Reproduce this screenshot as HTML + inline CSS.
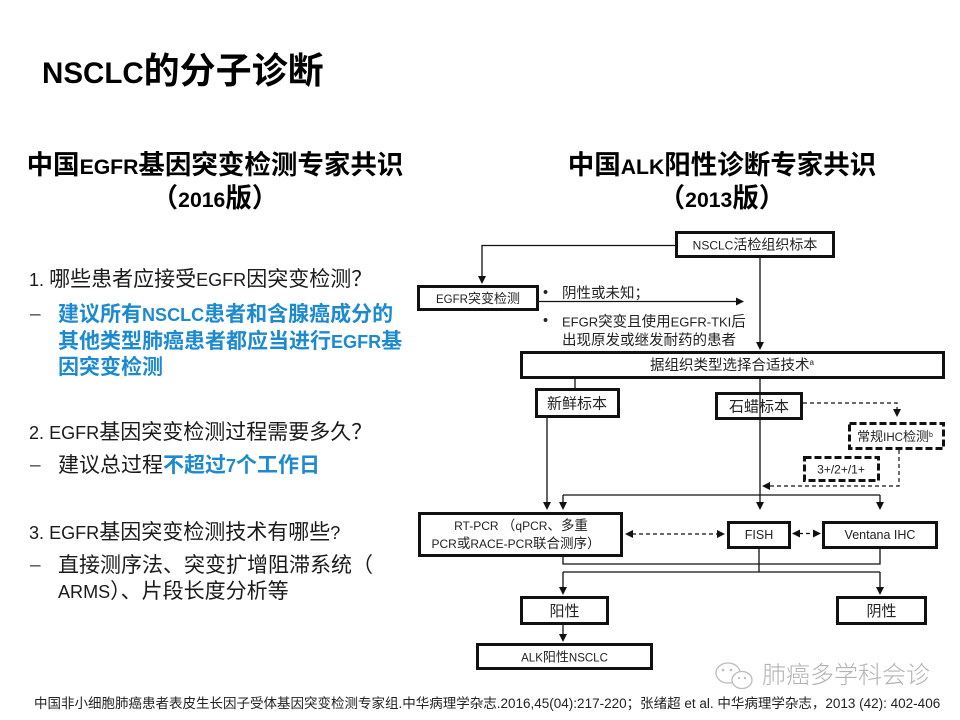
<!DOCTYPE html>
<html><head><meta charset="utf-8">
<style>
html,body{margin:0;padding:0;background:#fff;}
body{width:960px;height:720px;position:relative;overflow:hidden;font-family:"Liberation Sans","Noto Sans CJK SC",sans-serif;color:#1a1a1a;}
.a{position:absolute;white-space:nowrap;}
.l{font-size:0.86em;}
.l8{font-size:0.8em;}
.b{color:#1d8ad0;font-weight:bold;}
.q{font-size:21px;line-height:26px;}
.d{font-size:19px;line-height:26px;color:#444;}
</style></head><body>

<div class="a" style="left:42px;top:52px;font-size:36px;line-height:38px;font-weight:bold;color:#000"><span style="font-size:0.82em">NSCLC</span>的分子诊断</div>

<div class="a" style="left:15px;width:400px;text-align:center;top:150px;font-size:26.5px;line-height:31px;font-weight:bold;color:#000">中国<span class="l8">EGFR</span>基因突变检测专家共识<br><span>（<span class="l8">2016</span>版）</span></div>

<div class="a" style="left:522px;width:400px;text-align:center;top:150px;font-size:26.5px;line-height:31px;font-weight:bold;color:#000">中国<span class="l8">ALK</span>阳性诊断专家共识<br><span>（<span class="l8">2013</span>版）</span></div>

<div class="a q" style="left:29px;top:267px;"><span class="l">1. </span>哪些患者应接受<span class="l">EGFR</span>因突变检测？</div>
<div class="a d" style="left:30px;top:302px;">–</div>
<div class="a b" style="left:58px;top:302px;font-size:21px;line-height:25.5px;">建议所有<span class="l">NSCLC</span>患者和含腺癌成分的<br>其他类型肺癌患者都应当进行<span class="l">EGFR</span>基<br>因突变检测</div>

<div class="a q" style="left:29px;top:420px;"><span class="l">2. EGFR</span>基因突变检测过程需要多久？</div>
<div class="a d" style="left:30px;top:453px;">–</div>
<div class="a q" style="left:58px;top:453px;">建议总过程<span class="b">不超过<span class="l">7</span>个工作日</span></div>

<div class="a q" style="left:29px;top:520px;"><span class="l">3. EGFR</span>基因突变检测技术有哪些<span class="l">?</span></div>
<div class="a d" style="left:30px;top:553px;">–</div>
<div class="a q" style="left:58px;top:553px;">直接测序法、突变扩增阻滞系统（<br><span class="l">ARMS</span>）、片段长度分析等</div>

<svg class="a" style="left:0;top:0" width="960" height="720" viewBox="0 0 960 720">
<g fill="none" stroke="#111" stroke-width="1.3">
<path d="M675,245.5 H482 V277"/>
<path d="M539,301.5 H737"/>
<path d="M760,258 V343"/>
<path d="M575,379 V389"/>
<path d="M760,379 V503"/>
<path d="M547,418 V503"/>
<path d="M563,495 H880"/>
<path d="M563,495 V503"/>
<path d="M880,495 V503"/>
<path d="M563,557 V564 H880 V548"/>
<path d="M759,548 V572"/>
<path d="M563,572 H880"/>
<path d="M563,572 V588"/>
<path d="M880,572 V588"/>
<path d="M563,625 V635"/>
</g>
<g fill="none" stroke="#111" stroke-width="1.2" stroke-dasharray="4,3">
<path d="M803,403 H897 V410"/>
<path d="M899,450 V486 H769"/>
<path d="M632,534 H718"/>
<path d="M799,533.5 H814"/>
</g>
<g fill="#111">
<polygon points="478,276 486,276 482,284"/>
<polygon points="736,297.5 736,305.5 744,301.5"/>
<polygon points="756,342 764,342 760,350"/>
<polygon points="756,502 764,502 760,510"/>
<polygon points="543,502 551,502 547,510"/>
<polygon points="559,502 567,502 563,510"/>
<polygon points="876,502 884,502 880,510"/>
<polygon points="893,409 901,409 897,417"/>
<polygon points="770,482 770,490 762,486"/>
<polygon points="633,530 633,538 625,534"/>
<polygon points="717,530 717,538 725,534"/>
<polygon points="800,529.5 800,537.5 792,533.5"/>
<polygon points="813,529.5 813,537.5 821,533.5"/>
<polygon points="559,587 567,587 563,595"/>
<polygon points="876,587 884,587 880,595"/>
<polygon points="559,634 567,634 563,642"/>
</g>
<g fill="none" stroke="#111" stroke-width="3">
<rect x="676.5" y="232.5" width="157" height="24"/>
<rect x="418.5" y="286.5" width="119" height="23"/>
<rect x="521.5" y="352.5" width="422" height="25"/>
<rect x="536.5" y="389.5" width="82" height="27"/>
<rect x="716.5" y="393.5" width="85" height="25"/>
<rect x="419.5" y="513.5" width="202" height="42"/>
<rect x="728.5" y="522.5" width="61" height="25"/>
<rect x="823.5" y="522.5" width="113" height="25"/>
<rect x="521.5" y="597.5" width="86" height="26"/>
<rect x="837.5" y="597.5" width="88" height="26"/>
<rect x="477.5" y="644.5" width="174" height="24"/>
</g>
<g fill="none" stroke="#111" stroke-width="3" stroke-dasharray="7,3">
<rect x="849.5" y="423.5" width="94" height="25"/>
<rect x="804.5" y="457.5" width="74" height="23"/>
</g>
<g fill="#222" text-anchor="middle" font-family="Liberation Sans, Noto Sans CJK SC, sans-serif">
<text x="755" y="249.5" font-size="14"><tspan font-size="12">NSCLC</tspan>活检组织标本</text>
<text x="478" y="303" font-size="13"><tspan font-size="11.5">EGFR</tspan>突变检测</text>
<text x="732" y="370" font-size="14.5">据组织类型选择合适技术<tspan font-size="8" dy="-5">a</tspan></text>
<text x="577" y="408.5" font-size="15">新鲜标本</text>
<text x="759" y="411.5" font-size="15">石蜡标本</text>
<text x="895" y="441" font-size="13">常规<tspan font-size="11.5">IHC</tspan>检测<tspan font-size="7" dy="-4">b</tspan></text>
<text x="841" y="473.5" font-size="12">3+/2+/1+</text>
<text x="521" y="530" font-size="13.5"><tspan font-size="12">RT-PCR </tspan>（<tspan font-size="12">qPCR</tspan>、多重</text>
<text x="516" y="548" font-size="13.5"><tspan font-size="12">PCR</tspan>或<tspan font-size="12">RACE-PCR</tspan>联合测序）</text>
<text x="759" y="539" font-size="12.5">FISH</text>
<text x="880" y="539" font-size="12.5">Ventana IHC</text>
<text x="564.5" y="616" font-size="15">阳性</text>
<text x="881.5" y="616" font-size="15">阴性</text>
<text x="564.5" y="661.5" font-size="13"><tspan font-size="11.5">ALK</tspan>阳性<tspan font-size="11.5">NSCLC</tspan></text>
</g>
<g fill="#222" font-family="Liberation Sans, Noto Sans CJK SC, sans-serif" font-size="14.5">
<text x="543" y="297">•</text>
<text x="562" y="298">阴性或未知；</text>
<text x="543" y="325">•</text>
<text x="562" y="326.5"><tspan font-size="13">EFGR</tspan>突变且使用<tspan font-size="13">EGFR-TKI</tspan>后</text>
<text x="562" y="345">出现原发或继发耐药的患者</text>
</g>
<g fill="#fff" stroke="#bbb" stroke-width="1.3">
<ellipse cx="728" cy="673" rx="12" ry="10"/>
<ellipse cx="742" cy="680" rx="10" ry="8.5"/>
</g>
<g fill="#bbb">
<circle cx="723" cy="670" r="1.3"/>
<circle cx="731" cy="670" r="1.3"/>
<circle cx="739" cy="678" r="1.1"/>
<circle cx="745" cy="678" r="1.1"/>
</g>
</svg>

<div class="a" style="left:762px;top:662px;font-size:24px;line-height:28px;color:#b3b3b3;font-weight:300;">肺癌多学科会诊</div>

<div class="a" style="left:34px;top:695px;font-size:13.5px;line-height:18px;color:#222;">中国非小细胞肺癌患者表皮生长因子受体基因突变检测专家组.中华病理学杂志.2016,45(04):217-220；张绪超 et al. 中华病理学杂志，2013 (42): 402-406</div>

</body></html>
